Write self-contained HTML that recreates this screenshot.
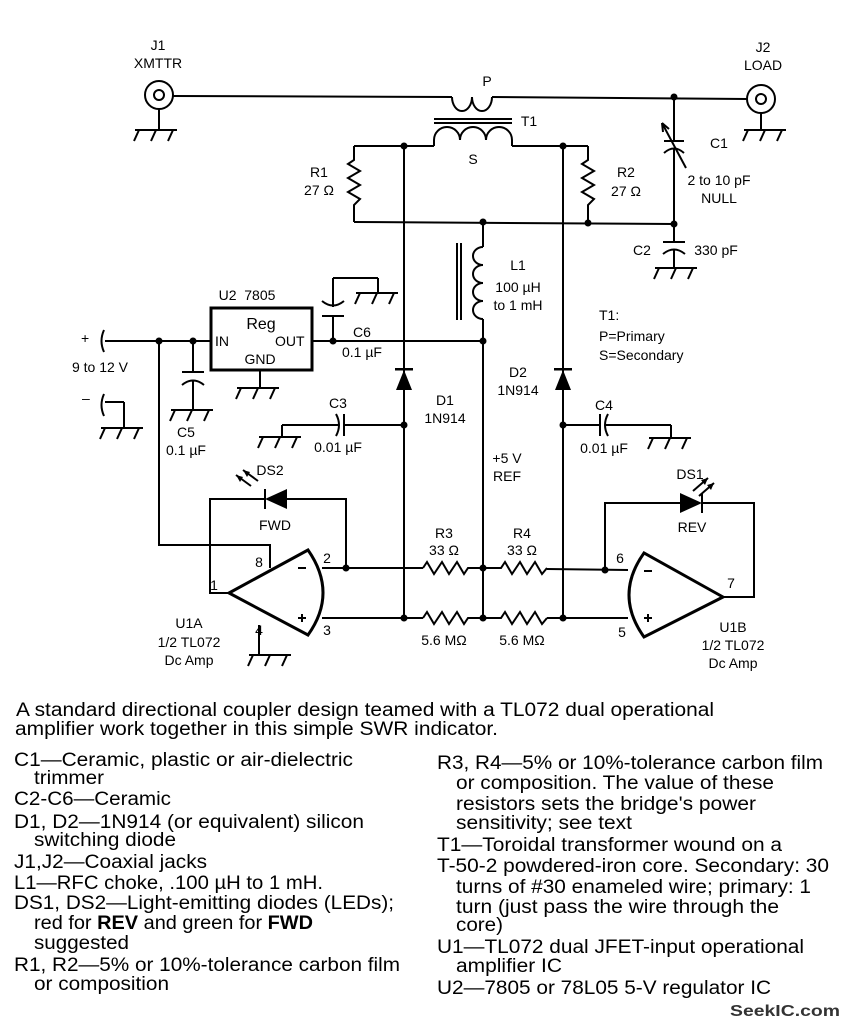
<!DOCTYPE html>
<html><head><meta charset="utf-8"><style>
html,body{margin:0;padding:0;background:#fff}
svg{display:block}
text{font-family:"Liberation Sans",sans-serif;fill:#000}
.s{font-size:14px}
.b{font-size:19px}
</style></head><body>
<svg width="842" height="1028" viewBox="0 0 842 1028" xmlns="http://www.w3.org/2000/svg">
<defs>
<g id="gnd" stroke="#000" stroke-width="2" fill="none">
<line x1="-21" y1="0" x2="21" y2="0"/>
<line x1="-17" y1="0" x2="-22" y2="11"/>
<line x1="0" y1="0" x2="-5" y2="11"/>
<line x1="17" y1="0" x2="12" y2="11"/>
</g>
</defs>
<g stroke="#000" stroke-width="2" fill="none">
<circle cx="159" cy="95" r="14"/><circle cx="159" cy="95" r="5"/>
<line x1="159" y1="109" x2="159" y2="130"/>
<line x1="173" y1="96" x2="452" y2="97"/>
<path d="M452,97 a10,14 0 0 0 20,0 a10,14 0 0 0 20,0"/>
<line x1="492" y1="97" x2="747" y2="99"/>
<circle cx="761" cy="99" r="14"/><circle cx="761" cy="99" r="5"/>
<line x1="761" y1="113" x2="761" y2="130"/>
<line x1="434" y1="119" x2="512" y2="119"/><line x1="434" y1="123" x2="512" y2="123"/>
<path d="M434,146 V140 a13,13 0 0 1 26,0 a13,13 0 0 1 26,0 a13,13 0 0 1 26,0 V146"/>
<line x1="354" y1="146" x2="434" y2="146"/>
<line x1="512" y1="146" x2="588" y2="146"/>
<polyline points="354,146 354,160 348,164 360,171 348,178 360,185 348,192 360,199 354,205 354,222"/>
<polyline points="588,146 588,160 582,164 594,171 582,178 594,185 582,192 594,199 588,205 588,223"/>
<line x1="354" y1="222" x2="674" y2="224"/>
<line x1="674" y1="97" x2="674" y2="141"/>
<line x1="664" y1="141" x2="684" y2="141"/>
<path d="M664,153 Q674,144 684,153"/>
<line x1="674" y1="148" x2="674" y2="224"/>
<line x1="662" y1="123" x2="686" y2="168"/>
<path d="M662,123 l1,9 M662,123 l7,6" />
<line x1="674" y1="224" x2="674" y2="242"/>
<line x1="663" y1="242" x2="685" y2="242"/>
<path d="M663,254 Q674,245 685,254"/>
<line x1="674" y1="249" x2="674" y2="268"/>
<line x1="483" y1="222" x2="483" y2="247"/>
<path d="M483,247 a10,9 0 0 0 0,18 a10,9 0 0 0 0,18 a10,9 0 0 0 0,18 a10,9 0 0 0 0,18"/>
<line x1="483" y1="319" x2="483" y2="618"/>
<line x1="457" y1="243" x2="457" y2="320"/><line x1="461" y1="243" x2="461" y2="320"/>
<line x1="404" y1="146" x2="404" y2="618"/>
<line x1="563" y1="146" x2="563" y2="618"/>
<rect x="211" y="308" width="101" height="62" stroke-width="3"/>
<line x1="260" y1="370" x2="260" y2="388"/>
<line x1="105" y1="341" x2="211" y2="341"/>
<path d="M104,330 q-5,11 0,22"/>
<line x1="312" y1="341" x2="483" y2="341"/>
<line x1="333" y1="341" x2="333" y2="316"/>
<line x1="322" y1="316" x2="344" y2="316"/>
<path d="M322,301 Q333,310 344,301"/>
<line x1="333" y1="307" x2="333" y2="278"/>
<line x1="333" y1="278" x2="378" y2="278"/>
<line x1="378" y1="278" x2="378" y2="293"/>
<line x1="193" y1="341" x2="193" y2="372"/>
<line x1="182" y1="372" x2="204" y2="372"/>
<path d="M182,385 Q193,376 204,385"/>
<line x1="193" y1="380" x2="193" y2="410"/>
<path d="M104,394 q-5,11 0,22"/>
<line x1="105" y1="402" x2="124" y2="402"/>
<line x1="124" y1="402" x2="124" y2="428"/>
<polyline points="159,341 159,545 270,545 270,568"/>
<line x1="404" y1="425" x2="344" y2="425"/>
<line x1="344" y1="414" x2="344" y2="436"/>
<path d="M336,414 Q342,425 336,436"/>
<line x1="339" y1="425" x2="282" y2="425"/>
<line x1="282" y1="425" x2="282" y2="437"/>
<line x1="563" y1="425" x2="600" y2="425"/>
<line x1="600" y1="414" x2="600" y2="436"/>
<path d="M608,414 Q602,425 608,436"/>
<line x1="605" y1="425" x2="671" y2="425"/>
<line x1="671" y1="425" x2="671" y2="438"/>
<line x1="322" y1="568" x2="423" y2="568"/>
<polyline points="423,568 427,562 434,574 442,562 449,574 457,562 464,574 468,568 501,568 505,562 512,574 520,562 527,574 535,562 542,574 547,568"/>
<line x1="547" y1="569" x2="628" y2="570"/>
<line x1="322" y1="618" x2="423" y2="618"/>
<polyline points="423,618 427,612 434,624 442,612 449,624 457,612 464,624 468,618 501,618 505,612 512,624 520,612 527,624 535,612 542,624 547,618"/>
<line x1="547" y1="618" x2="628" y2="618"/>
<path d="M229,593 L308,550 Q338,593 308,635 Z" stroke-width="3"/>
<polyline points="229,593 210,593 210,499 265,499"/>
<polyline points="287,499 346,499 346,568"/>
<line x1="259" y1="625" x2="259" y2="655"/>
<line x1="265" y1="489" x2="265" y2="509"/>
<path d="M723,597 L644,553 Q614,595 644,637 Z" stroke-width="3"/>
<polyline points="723,597 754,597 754,503 702,503"/>
<polyline points="680,503 605,503 605,570"/>
<line x1="702" y1="493" x2="702" y2="513"/>
<line x1="251" y1="486" x2="236" y2="475"/><line x1="258" y1="481" x2="243" y2="470"/>
<line x1="693" y1="491" x2="708" y2="478"/><line x1="699" y1="496" x2="714" y2="483"/>
<line x1="298" y1="568" x2="306" y2="568"/>
<line x1="298" y1="618" x2="306" y2="618"/><line x1="302" y1="614" x2="302" y2="622"/>
<line x1="644" y1="571" x2="652" y2="571"/>
<line x1="644" y1="618" x2="652" y2="618"/><line x1="648" y1="614" x2="648" y2="622"/>
</g>
<g fill="#000">
<polygon points="404,370 396,390 412,390"/><rect x="395" y="368" width="18" height="2.5"/>
<polygon points="563,370 555,390 571,390"/><rect x="554" y="368" width="18" height="2.5"/>
<polygon points="265,499 287,489 287,509"/>
<polygon points="702,503 680,493 680,513"/>
<polygon points="236,475 240,482 243,477"/><polygon points="243,470 247,477 250,472"/>
<polygon points="708,478 701,480 705,485"/><polygon points="714,483 707,485 711,490"/>
<circle cx="674" cy="97" r="3.5"/><circle cx="404" cy="146" r="3.5"/><circle cx="563" cy="146" r="3.5"/>
<circle cx="483" cy="222" r="3.5"/><circle cx="588" cy="223" r="3.5"/><circle cx="674" cy="224" r="3.5"/>
<circle cx="159" cy="341" r="3.5"/><circle cx="193" cy="341" r="3.5"/><circle cx="333" cy="341" r="3.5"/>
<circle cx="483" cy="341" r="3.5"/><circle cx="404" cy="425" r="3.5"/><circle cx="563" cy="425" r="3.5"/>
<circle cx="346" cy="568" r="3.5"/><circle cx="483" cy="568" r="3.5"/><circle cx="605" cy="570" r="3.5"/>
<circle cx="404" cy="618" r="3.5"/><circle cx="483" cy="618" r="3.5"/><circle cx="563" cy="618" r="3.5"/>
</g>
<use href="#gnd" x="156" y="130"/><use href="#gnd" x="765" y="130"/>
<use href="#gnd" x="676" y="268"/><use href="#gnd" x="377" y="293"/>
<use href="#gnd" x="258" y="388"/><use href="#gnd" x="192" y="410"/>
<use href="#gnd" x="122" y="428"/><use href="#gnd" x="280" y="437"/>
<use href="#gnd" x="670" y="438"/><use href="#gnd" x="270" y="655"/>
<g class="s" text-anchor="middle">
<text x="158" y="50">J1</text><text x="158" y="68">XMTTR</text>
<text x="763" y="52">J2</text><text x="763" y="70">LOAD</text>
<text x="487" y="86">P</text><text x="529" y="126">T1</text><text x="473" y="164">S</text>
<text x="319" y="177">R1</text><text x="319" y="195">27 Ω</text>
<text x="626" y="177">R2</text><text x="626" y="196">27 Ω</text>
<text x="719" y="148">C1</text><text x="719" y="185">2 to 10 pF</text><text x="719" y="203">NULL</text>
<text x="642" y="255">C2</text><text x="716" y="255">330 pF</text>
<text x="518" y="270">L1</text><text x="518" y="292">100 µH</text><text x="518" y="310">to 1 mH</text>
<text x="247" y="300">U2&#160;&#160;7805</text>
<text x="261" y="329" style="font-size:16px">Reg</text>
<text x="260" y="364">GND</text>
<text x="362" y="337">C6</text><text x="362" y="357">0.1 µF</text>
<text x="100" y="372">9 to 12 V</text>
<text x="186" y="437">C5</text><text x="186" y="455">0.1 µF</text>
<text x="445" y="405">D1</text><text x="445" y="423">1N914</text>
<text x="518" y="377">D2</text><text x="518" y="395">1N914</text>
<text x="338" y="408">C3</text><text x="338" y="452">0.01 µF</text>
<text x="604" y="410">C4</text><text x="604" y="453">0.01 µF</text>
<text x="507" y="463">+5 V</text><text x="507" y="481">REF</text>
<text x="270" y="475">DS2</text><text x="275" y="530">FWD</text>
<text x="690" y="479">DS1</text><text x="692" y="532">REV</text>
<text x="444" y="538">R3</text><text x="444" y="555">33 Ω</text>
<text x="522" y="538">R4</text><text x="522" y="555">33 Ω</text>
<text x="444" y="645">5.6 MΩ</text><text x="522" y="645">5.6 MΩ</text>
<text x="189" y="628">U1A</text><text x="189" y="647">1/2 TL072</text><text x="189" y="665">Dc Amp</text>
<text x="733" y="632">U1B</text><text x="733" y="650">1/2 TL072</text><text x="733" y="668">Dc Amp</text>
<text x="327" y="563">2</text><text x="327" y="635">3</text><text x="259" y="567">8</text>
<text x="214" y="590">1</text><text x="259" y="635">4</text>
<text x="620" y="563">6</text><text x="622" y="637">5</text><text x="731" y="588">7</text>
</g>
<g class="s">
<text x="215" y="346">IN</text><text x="275" y="346">OUT</text>
<text x="81" y="343">+</text><text x="82" y="403">–</text>
<text x="599" y="320">T1:</text><text x="599" y="341">P=Primary</text><text x="599" y="360">S=Secondary</text>
</g>
<g class="b">
<text x="16" y="716" textLength="698" lengthAdjust="spacingAndGlyphs">A standard directional coupler design teamed with a TL072 dual operational</text>
<text x="15" y="735" textLength="483" lengthAdjust="spacingAndGlyphs">amplifier work together in this simple SWR indicator.</text>
<text x="14" y="766" textLength="339" lengthAdjust="spacingAndGlyphs">C1—Ceramic, plastic or air-dielectric</text>
<text x="34" y="784" textLength="70" lengthAdjust="spacingAndGlyphs">trimmer</text>
<text x="14" y="805" textLength="157" lengthAdjust="spacingAndGlyphs">C2-C6—Ceramic</text>
<text x="14" y="828" textLength="350" lengthAdjust="spacingAndGlyphs">D1, D2—1N914 (or equivalent) silicon</text>
<text x="34" y="846" textLength="142" lengthAdjust="spacingAndGlyphs">switching diode</text>
<text x="14" y="868" textLength="193" lengthAdjust="spacingAndGlyphs">J1,J2—Coaxial jacks</text>
<text x="14" y="889" textLength="309" lengthAdjust="spacingAndGlyphs">L1—RFC choke, .100 µH to 1 mH.</text>
<text x="14" y="909" textLength="380" lengthAdjust="spacingAndGlyphs">DS1, DS2—Light-emitting diodes (LEDs);</text>
<text x="34" y="929" textLength="279" lengthAdjust="spacingAndGlyphs">red for <tspan font-weight="bold">REV</tspan> and green for <tspan font-weight="bold">FWD</tspan></text>
<text x="34" y="949" textLength="95" lengthAdjust="spacingAndGlyphs">suggested</text>
<text x="14" y="971" textLength="386" lengthAdjust="spacingAndGlyphs">R1, R2—5% or 10%-tolerance carbon film</text>
<text x="34" y="990" textLength="135" lengthAdjust="spacingAndGlyphs">or composition</text>
<text x="437" y="769" textLength="386" lengthAdjust="spacingAndGlyphs">R3, R4—5% or 10%-tolerance carbon film</text>
<text x="456" y="789" textLength="318" lengthAdjust="spacingAndGlyphs">or composition. The value of these</text>
<text x="456" y="810" textLength="300" lengthAdjust="spacingAndGlyphs">resistors sets the bridge's power</text>
<text x="456" y="829" textLength="176" lengthAdjust="spacingAndGlyphs">sensitivity; see text</text>
<text x="437" y="851" textLength="345" lengthAdjust="spacingAndGlyphs">T1—Toroidal transformer wound on a</text>
<text x="437" y="872" textLength="392" lengthAdjust="spacingAndGlyphs">T-50-2 powdered-iron core. Secondary: 30</text>
<text x="456" y="893" textLength="355" lengthAdjust="spacingAndGlyphs">turns of #30 enameled wire; primary: 1</text>
<text x="456" y="913" textLength="323" lengthAdjust="spacingAndGlyphs">turn (just pass the wire through the</text>
<text x="456" y="931" textLength="47" lengthAdjust="spacingAndGlyphs">core)</text>
<text x="437" y="953" textLength="367" lengthAdjust="spacingAndGlyphs">U1—TL072 dual JFET-input operational</text>
<text x="456" y="972" textLength="106" lengthAdjust="spacingAndGlyphs">amplifier IC</text>
<text x="437" y="994" textLength="334" lengthAdjust="spacingAndGlyphs">U2—7805 or 78L05 5-V regulator IC</text>
</g>
<text x="730" y="1016" style="font-size:16px;font-weight:bold;fill:#333" textLength="110" lengthAdjust="spacingAndGlyphs">SeekIC.com</text>
</svg>
</body></html>
